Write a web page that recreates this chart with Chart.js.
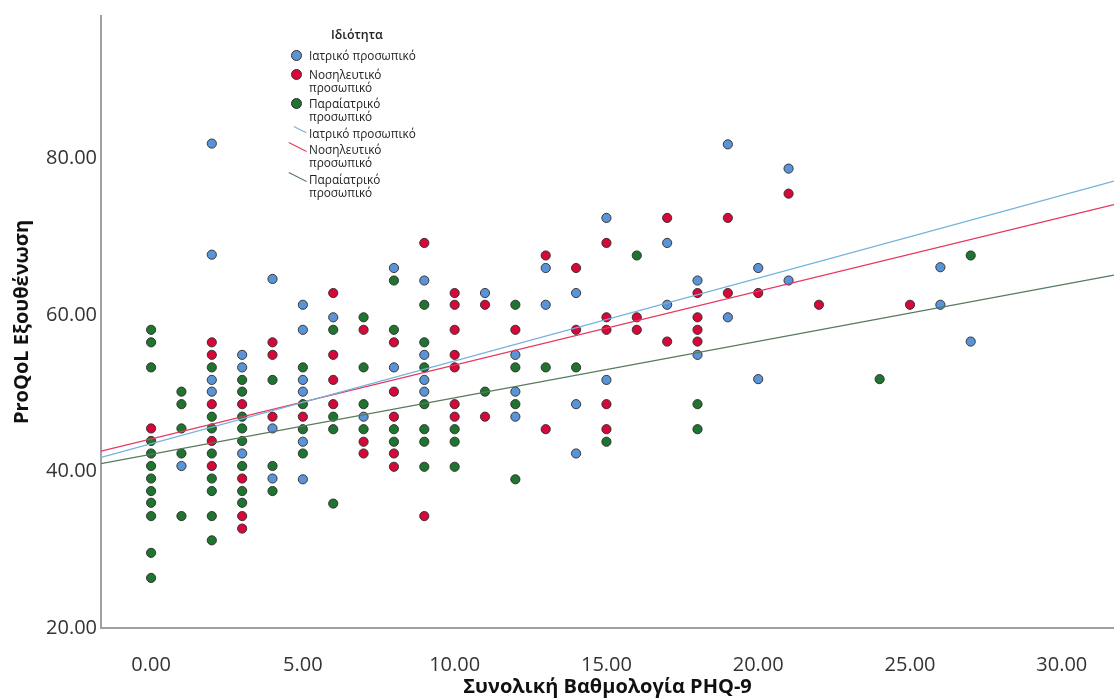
<!DOCTYPE html>
<html>
<head>
<meta charset="utf-8">
<script src="https://cdn.jsdelivr.net/npm/chart.js@4.4.1/dist/chart.umd.min.js"></script>
<style>
  body { margin: 0; background: #fff; }
  #wrap { position: relative; width: 1114px; height: 699px; }
  #legend { position: absolute; left: 0; top: 0; font-family: "Open Sans", sans-serif; font-size: 11.8px; color: #222; }
  #legend .title { position: absolute; left: 331px; top: 26px; font-weight: 600; font-size: 12.4px; white-space: nowrap; }
  #legend .row { position: absolute; left: 309px; line-height: 12.5px; white-space: nowrap; }
  #legend .dot { position: absolute; width: 9px; height: 9px; border-radius: 50%; border: 1px solid #333; }
  #legend .ln { position: absolute; height: 1.2px; transform-origin: 0 0; }
</style>
</head>
<body>
<div id="wrap">
  <canvas id="myChart" width="1114" height="699"></canvas>
  <div id="legend"></div>
</div>
<script>
// ProQoL burnout vs PHQ-9 total, by staff group
var groupLabels = [['Ιατρικό προσωπικό'], ['Νοσηλευτικό', 'προσωπικό'], ['Παραίατρικό', 'προσωπικό']];
var pointColors = ['#5b94d6', '#d6083a', '#1f7430'];
var lineColors = ['#72b2dc', '#e9365e', '#567a5c'];

// Ιατρικό προσωπικό
var medX = [1, 2, 2, 2, 2, 3, 3, 3, 4, 4, 4, 5, 5, 5, 5, 5, 5, 6, 7, 8, 8, 9, 9, 9, 9,
  11, 12, 12, 12, 13, 13, 14, 14, 14, 15, 15, 17, 17, 18, 18, 19, 19, 20, 20, 21, 21, 26, 26, 27];
var medY = [40.7, 81.9, 67.7, 51.7, 50.2, 54.9, 53.3, 42.3, 64.6, 45.5, 39.1, 61.3, 58.1, 51.7, 50.2, 43.8, 39.0, 59.7, 47.0, 66.0, 53.3, 64.4, 54.9, 51.7, 50.2,
  62.8, 54.9, 50.2, 47.0, 66.0, 61.3, 62.8, 48.6, 42.3, 72.4, 51.7, 69.2, 61.3, 64.4, 54.9, 81.8, 59.7, 66.0, 51.8, 78.7, 64.4, 66.1, 61.3, 56.6];

// Νοσηλευτικό προσωπικό
var nurseX = [0, 2, 2, 2, 2, 2, 3, 3, 3, 3, 4, 4, 4, 5, 6, 6, 6, 6, 7, 7, 7, 8, 8, 8, 8, 8, 9, 9,
  10, 10, 10, 10, 10, 10, 10, 11, 11, 12, 13, 13, 14, 14, 15, 15, 15, 15, 15, 16, 16, 17, 17,
  18, 18, 18, 18, 19, 19, 20, 21, 22, 25];
var nurseY = [45.5, 56.5, 54.9, 48.6, 43.9, 40.7, 48.6, 39.1, 34.3, 32.7, 56.5, 54.9, 47.0, 47.0, 62.8, 54.9, 51.7, 48.6, 58.1, 43.8, 42.3, 56.5, 50.2, 47.0, 42.3, 40.6, 69.2, 34.3,
  62.8, 61.3, 58.1, 54.9, 53.3, 48.6, 47.0, 61.3, 47.0, 58.1, 67.6, 45.4, 66.0, 58.1, 69.2, 59.7, 58.1, 48.6, 45.4, 59.7, 58.1, 72.4, 56.6,
  62.8, 59.7, 58.1, 56.6, 72.4, 62.8, 62.8, 75.5, 61.3, 61.3];

// Παραϊατρικό προσωπικό
var paraX = [0, 0, 0, 0, 0, 0, 0, 0, 0, 0, 0, 0, 1, 1, 1, 1, 1, 2, 2, 2, 2, 2, 2, 2, 2,
  3, 3, 3, 3, 3, 3, 3, 3, 4, 4, 4, 5, 5, 5, 5, 6, 6, 6, 6, 7, 7, 7, 7, 8, 8, 8, 8,
  9, 9, 9, 9, 9, 9, 9, 10, 10, 10, 11, 12, 12, 12, 12, 13, 14, 15, 16, 18, 18, 24, 27];
var paraY = [58.1, 56.5, 53.3, 43.9, 42.3, 40.7, 39.1, 37.5, 36.0, 34.3, 29.6, 26.4, 50.2, 48.6, 45.5, 42.3, 34.3, 53.3, 47.0, 45.5, 42.3, 39.1, 37.5, 34.3, 31.2,
  51.7, 50.2, 47.0, 45.5, 43.9, 40.7, 37.5, 36.0, 51.7, 40.7, 37.5, 53.3, 48.6, 45.4, 42.3, 58.1, 47.0, 45.4, 35.9, 59.7, 53.3, 48.6, 45.4, 64.4, 58.1, 45.4, 43.8,
  61.3, 56.5, 53.3, 48.6, 45.4, 43.8, 40.6, 45.4, 43.8, 40.6, 50.2, 61.3, 53.3, 48.6, 39.0, 53.3, 53.3, 43.8, 67.6, 48.6, 45.4, 51.8, 67.6];

// fit lines, value at left and right edge of the x axis
var xMin = -1.65, xMax = 31.72;
var yMin = 20, yMax = 98.2;
var fitLeft = [41.8, 42.6, 41.0];
var fitRight = [77.1, 74.1, 65.1];

var groupX = [medX, nurseX, paraX];
var groupY = [medY, nurseY, paraY];

var datasets = [];
for (var g = 0; g < 3; g++) {
  var pts = groupX[g].map(function (x, i) { return {x: x, y: groupY[g][i]}; });
  datasets.push({
    type: 'scatter',
    label: groupLabels[g].join(' '),
    data: pts,
    backgroundColor: pointColors[g],
    borderColor: '#2b2b2b',
    borderWidth: 0.9,
    pointRadius: 4.6,
    order: 1
  });
}
for (var g = 0; g < 3; g++) {
  datasets.push({
    type: 'line',
    label: groupLabels[g].join(' '),
    data: [{x: xMin, y: fitLeft[g]}, {x: xMax, y: fitRight[g]}],
    borderColor: lineColors[g],
    borderWidth: 1.3,
    pointRadius: 0,
    fill: false,
    order: 0
  });
}

const ctx = document.getElementById('myChart');
var chart = new Chart(ctx, {
  data: { datasets: datasets },
  options: {
    responsive: false,
    animation: false,
    devicePixelRatio: 1,
    layout: { autoPadding: false, padding: { top: 13, right: 0, bottom: 0, left: 0 } },
    plugins: { legend: { display: false }, tooltip: { enabled: false } },
    scales: {
      x: {
        type: 'linear',
        min: xMin,
        max: xMax,
        // tick marks hidden, tickLength only pushes the labels down
        grid: { display: false, drawTicks: true, tickLength: 22 },
        border: { display: true, color: '#a0a0a0', width: 2 },
        ticks: {
          stepSize: 5,
          includeBounds: false,
          padding: 3,
          color: '#333',
          font: { family: 'Open Sans', size: 20 },
          callback: function (v) { return v.toFixed(2); }
        },
        title: {
          display: true,
          text: 'Συνολική Βαθμολογία PHQ-9',
          color: '#111',
          font: { family: 'Open Sans', size: 20, weight: 'bold' },
          padding: { top: 0, bottom: 0 }
        },
        afterFit: function (s) { s.height = 71; }
      },
      y: {
        type: 'linear',
        min: yMin,
        max: yMax,
        grid: { display: false, drawTicks: false },
        border: { display: true, color: '#a0a0a0', width: 2 },
        ticks: {
          stepSize: 20,
          includeBounds: false,
          padding: 4,
          color: '#333',
          font: { family: 'Open Sans', size: 20 },
          callback: function (v) { return v.toFixed(2); }
        },
        title: {
          display: true,
          text: 'ProQoL Εξουθένωση',
          color: '#111',
          font: { family: 'Open Sans', size: 20, weight: 'bold' },
          padding: { top: 10, bottom: 0 }
        },
        afterFit: function (s) { s.width = 101; }
      }
    }
  }
});

// legend drawn over the plot, like the original
var legend = document.getElementById('legend');
var title = document.createElement('div');
title.className = 'title';
title.textContent = 'Ιδιότητα';
legend.appendChild(title);

var rowTops = [49, 68, 97, 127, 143, 173];
var lineLen = [14, 20, 20];
for (var k = 0; k < 6; k++) {
  var g = k % 3;
  var row = document.createElement('div');
  row.className = 'row';
  row.style.top = rowTops[k] + 'px';
  row.innerHTML = groupLabels[g].join('<br>');
  legend.appendChild(row);
  if (k < 3) {
    var dot = document.createElement('div');
    dot.className = 'dot';
    dot.style.left = '291px';
    dot.style.top = (rowTops[k] + 1) + 'px';
    dot.style.background = pointColors[g];
    legend.appendChild(dot);
  } else {
    var ln = document.createElement('div');
    ln.className = 'ln';
    ln.style.width = lineLen[g] + 'px';
    ln.style.background = lineColors[g];
    ln.style.left = (307 - lineLen[g] * 0.9) + 'px';
    ln.style.top = (rowTops[k] - 1) + 'px';
    ln.style.transform = 'rotate(27deg)';
    legend.appendChild(ln);
  }
}
</script>
</body>
</html>
